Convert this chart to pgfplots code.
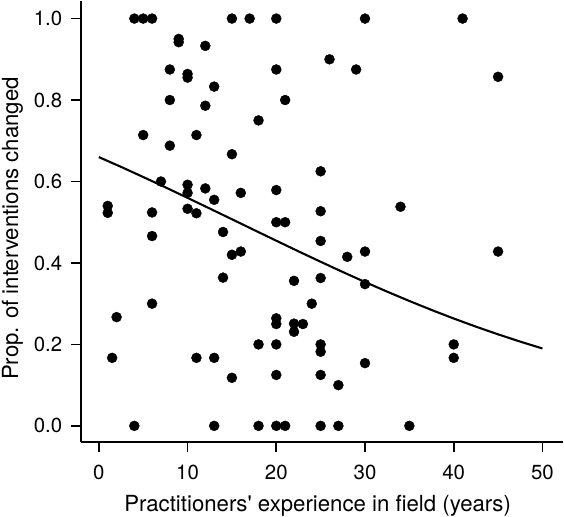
\documentclass[border=0pt]{standalone}
\usepackage{fontspec}
\setmainfont{TeX Gyre Heros}
\usepackage{pgfplots}
\pgfplotsset{compat=1.18}
\begin{document}
\begin{tikzpicture}
\begin{axis}[
  scale only axis,
  width=483bp, height=442bp,
  xmin=-2.03, xmax=52.33,
  ymin=-0.0402, ymax=1.0434,
  axis x line*=bottom, axis y line*=left,
  axis line style={-, line width=1.8bp, black},
  tick align=outside,
  major tick length=9.5bp,
  tick style={line width=1.8bp, black},
  xtick={0,10,20,30,40,50},
  ytick={0,0.2,0.4,0.6,0.8,1.0},
  /pgf/number format/assume math mode=true,
  ticklabel style={font=\fontsize{20.5}{24}\selectfont},
  xticklabel style={inner sep=0pt, yshift=-13bp},
  yticklabel style={inner sep=0pt, xshift=-9bp, /pgf/number format/fixed, /pgf/number format/fixed zerofill, /pgf/number format/precision=1},
  every axis x label/.style={at={(axis description cs:0.491,-0.1568)}, anchor=base, inner sep=0pt, font=\fontsize{22.3}{26}\selectfont},
  every axis y label/.style={at={(axis description cs:-0.1298,0.484)}, anchor=base, rotate=90, inner sep=2bp, font=\fontsize{22.3}{26}\selectfont},
  xlabel={Practitioners\textquotesingle{} experience in field (years)},
  ylabel={Prop. of interventions changed},
  clip=false,
]
\addplot[only marks, mark=*, mark size=5bp, mark options={draw=none, fill=black}] coordinates {
(4,1) (5,1) (6,1) (15,1) (17,1) (20,1) (30,1) (41,1)
(9,0.95) (9,0.942) (12,0.933) (8,0.875) (10,0.864) (10,0.855) (13,0.833)
(20,0.875) (26,0.9) (29,0.875) (45,0.857)
(8,0.8) (12,0.786) (21,0.8) (18,0.75) (5,0.714) (11,0.714) (8,0.688) (15,0.667)
(25,0.625) (7,0.6) (10,0.592) (10,0.572) (12,0.583) (16,0.572) (13,0.555) (20,0.579)
(1,0.54) (1,0.523) (6,0.524) (10,0.533) (11,0.522) (20,0.5) (21,0.5) (25,0.527) (34,0.538)
(6,0.466) (14,0.476) (25,0.454) (15,0.42) (16,0.428) (28,0.415) (30,0.428) (45,0.428)
(14,0.364) (22,0.356) (25,0.363) (30,0.348) (6,0.3) (24,0.3) (2,0.267)
(20,0.264) (20,0.25) (22,0.251) (22,0.231) (23,0.25)
(1.5,0.167) (11,0.167) (13,0.167) (18,0.2) (20,0.2) (25,0.2) (25,0.182)
(40,0.2) (40,0.167) (30,0.154)
(15,0.118) (20,0.125) (25,0.125) (27,0.1)
(4,0) (13,0) (18,0) (20,0) (21,0) (25,0) (27,0) (35,0)
};
\addplot[line width=2.1bp, black, no marks] coordinates {
(0,0.6599) (2.5,0.6359) (5,0.6110) (7.5,0.5857) (10,0.5598) (12.5,0.5336)
(15,0.5073) (17.5,0.4809) (20,0.4546) (22.5,0.4285) (25,0.4029) (27.5,0.3777)
(30,0.3532) (32.5,0.3295) (35,0.3066) (37.5,0.2846) (40,0.2636) (42.5,0.2436)
(45,0.2247) (47.5,0.2068) (50,0.1900)
};
\end{axis}
\end{tikzpicture}
\end{document}
